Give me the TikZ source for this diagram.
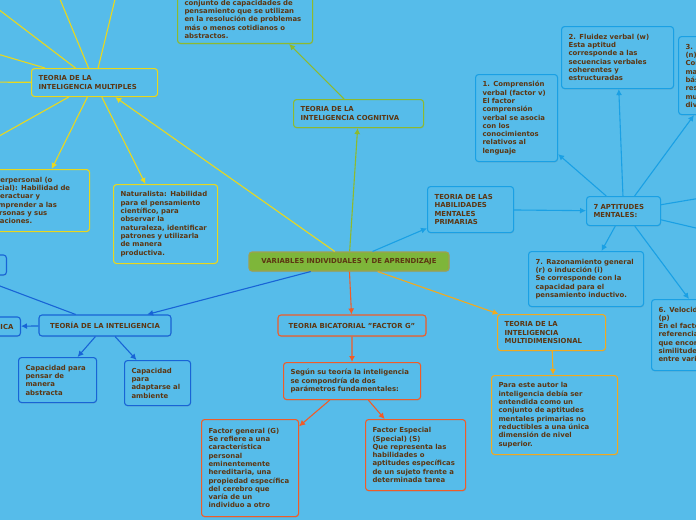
\documentclass[tikz,border=0pt]{standalone}
\usepackage{fontspec}
\setmainfont{DejaVu Sans}
\usepackage{tikz}
\usetikzlibrary{arrows.meta,shadows}
\usepackage{xcolor}
\definecolor{bgc}{RGB}{86,188,234}
\definecolor{txt}{RGB}{92,54,18}
\definecolor{cyel}{RGB}{232,216,30}
\definecolor{cgrn}{RGB}{141,186,46}
\definecolor{cblu}{RGB}{26,160,228}
\definecolor{cdbl}{RGB}{24,100,214}
\definecolor{corg}{RGB}{242,170,30}
\definecolor{cred}{RGB}{240,92,40}
\definecolor{cmid}{RGB}{126,182,58}
\definecolor{cmidd}{RGB}{160,160,80}
\tikzset{
  mbox/.style={rounded corners=3pt, line width=1.1pt, fill=bgc, text=txt, align=left, anchor=north west,
    inner xsep=7pt, inner ysep=5pt, font=\fontsize{6.9}{8.3}\selectfont\bfseries,
    drop shadow={opacity=0.2, shadow xshift=0.5pt, shadow yshift=-1pt}},
  ybox/.style={mbox, draw=cyel},
  gbox/.style={mbox, draw=cgrn},
  bbox/.style={mbox, draw=cblu},
  dbox/.style={mbox, draw=cdbl},
  obox/.style={mbox, draw=corg},
  rbox/.style={mbox, draw=cred},
  arr/.style={-{Latex[length=6pt,width=6pt]}, line width=1.1pt}
}
\begin{document}
\begin{tikzpicture}[x=1pt,y=-1pt]
\useasboundingbox (0,0) rectangle (696,520);
\clip (0,0) rectangle (696,520);
\fill[bgc] (0,0) rectangle (696,520);
% centre
\node[mbox, anchor=center, fill=cmid, draw=cmidd, minimum width=200pt, minimum height=19pt] (vars) at (349,261.5) {VARIABLES INDIVIDUALES Y DE APRENDIZAJE};
% multiples
\node[ybox, text width=112pt, minimum height=28pt] (multi) at (31,68) {TEORIA DE LA\\INTELIGENCIA MULTIPLES};
\node[ybox, text width=93pt, minimum height=62pt] (interp) at (-18,169) {Interpersonal (o\\social): Habilidad de\\interactuar y\\comprender a las\\personas y sus\\relaciones.};
\node[ybox, text width=90pt, minimum height=79pt] (natur) at (113,184) {Naturalista: Habilidad\\para el pensamiento\\científico, para\\observar la\\naturaleza, identificar\\patrones y utilizarla\\de manera\\productiva.};
\coordinate (ma) at (-40,-20);
\coordinate (mb) at (50,-25);
\coordinate (mc) at (121,-25);
\coordinate (md) at (-40,43);
\coordinate (me) at (-40,82);
\coordinate (mf) at (-40,158);
% cognitiva
\node[gbox, text width=116pt, minimum height=28pt] (cog) at (293,99) {TEORIA DE LA\\INTELIGENCIA COGNITIVA};
\node[gbox, anchor=south west, text width=121pt] (cogdef) at (177,44) {conjunto de capacidades de\\pensamiento que se utilizan\\en la resolución de problemas\\más o menos cotidianos o\\abstractos.};
% habilidades mentales primarias
\node[bbox, text width=72pt, minimum height=46pt] (hab) at (427,186) {TEORIA DE LAS\\HABILIDADES\\MENTALES\\PRIMARIAS};
\node[bbox, text width=60pt, minimum height=29pt] (apt) at (586,196) {7 APTITUDES\\MENTALES:};
\node[bbox, text width=68pt, minimum height=87pt] (comp) at (475,74) {1. Comprensión\\verbal (factor v)\\El factor\\comprensión\\verbal se asocia\\con los\\conocimientos\\relativos al\\lenguaje};
\node[bbox, text width=98pt, minimum height=62pt] (flu) at (561,26) {2. Fluidez verbal (w)\\Esta aptitud\\corresponde a las\\secuencias verbales\\coherentes y\\estructuradas};
\node[bbox, text width=106pt, minimum height=78pt] (num) at (678,36) {3. Aptitud numérica\\(n)\\Consiste en\\manejar\\básicamente\\restas, sumas,\\multiplicaciones y\\divisiones};
\node[bbox, text width=101pt, minimum height=55pt] (raz) at (528,251) {7. Razonamiento general\\(r) o inducción (i)\\Se corresponde con la\\capacidad para el\\pensamiento inductivo.};
\node[bbox, text width=126pt, minimum height=71pt] (vel) at (651,299) {6. Velocidad perceptiva\\(p)\\En el factor se hace\\referencia a la habilidad\\que encontramos para ver\\similitudes y diferencias\\entre varios objetos};
\coordinate (aa) at (760,188);
\coordinate (ab) at (760,243);
% multidimensional
\node[obox, text width=94pt, minimum height=36pt] (mdim) at (497,314) {TEORIA DE LA\\INTELIGENCIA\\MULTIDIMENSIONAL};
\node[obox, text width=112pt, minimum height=79pt] (para) at (491,375) {Para este autor la\\inteligencia debía ser\\entendida como un\\conjunto de aptitudes\\mentales primarias no\\reductibles a una única\\dimensión de nivel\\superior.};
% factor g
\node[rbox, anchor=center, minimum width=148pt, minimum height=21pt] (bicat) at (352,325.5) {TEORIA BICATORIAL \char34FACTOR G\char34};
\node[rbox, text width=123pt, minimum height=37pt] (segun) at (283,362) {Según su teoría la inteligencia\\se compondría de dos\\parámetros fundamentales:};
\node[rbox, text width=83pt, minimum height=97pt] (fg) at (201,419) {Factor general (G)\\Se refiere a una\\característica\\personal\\eminentemente\\hereditaria, una\\propiedad específica\\del cerebro que\\varía de un\\individuo a otro};
\node[rbox, text width=86pt, minimum height=71pt] (fe) at (365,419) {Factor Especial\\(Special) (S)\\Que representa las\\habilidades o\\aptitudes específicas\\de un sujeto frente a\\determinada tarea};
% teoria de la inteligencia
\node[dbox, anchor=center, minimum width=132pt, minimum height=21pt] (teo) at (105,325.5) {TEORÍA DE LA INTELIGENCIA};
\node[dbox, anchor=east, minimum height=19pt] (ica) at (21,326.5) {TEORÍA PSICOMÉTRICA};
\node[dbox, anchor=east, minimum width=40pt, minimum height=20pt] (tb) at (7,265) {};
\node[dbox, text width=64pt, minimum height=45pt] (capa) at (18,357) {Capacidad para\\pensar de\\manera\\abstracta};
\node[dbox, text width=52pt, minimum height=45pt] (capb) at (124,360) {Capacidad\\para\\adaptarse al\\ambiente};
\coordinate (ta) at (-40,271);
% connectors
\draw[arr, cyel] (vars) -- (multi);
\draw[arr, cyel] (multi) -- (interp);
\draw[arr, cyel] (multi) -- (natur);
\foreach \c in {ma,mb,mc,md,me,mf} \draw[arr, cyel] (multi) -- (\c);
\draw[arr, cgrn] (vars) -- (cog);
\draw[arr, cgrn] (cog) -- ([xshift=-24pt]cogdef.south east);
\draw[arr, cblu] (vars) -- (hab);
\draw[arr, cblu] (hab) -- (apt);
\foreach \c in {comp,flu,raz,aa,ab} \draw[arr, cblu] (apt) -- (\c);
\draw[arr, cblu] (apt) -- ([xshift=16pt]num.south west);
\draw[arr, cblu] (apt) -- ([xshift=38pt]vel.north west);
\draw[arr, corg] (vars) -- (mdim);
\draw[arr, corg] (mdim) -- (para);
\draw[arr, cred] (vars) -- (bicat);
\draw[arr, cred] (bicat) -- (segun);
\draw[arr, cred] (segun) -- (fg);
\draw[arr, cred] (segun) -- (fe);
\draw[arr, cdbl] (vars) -- (teo);
\foreach \c in {ica,capa,capb,ta} \draw[arr, cdbl] (teo) -- (\c);
\end{tikzpicture}
\end{document}
